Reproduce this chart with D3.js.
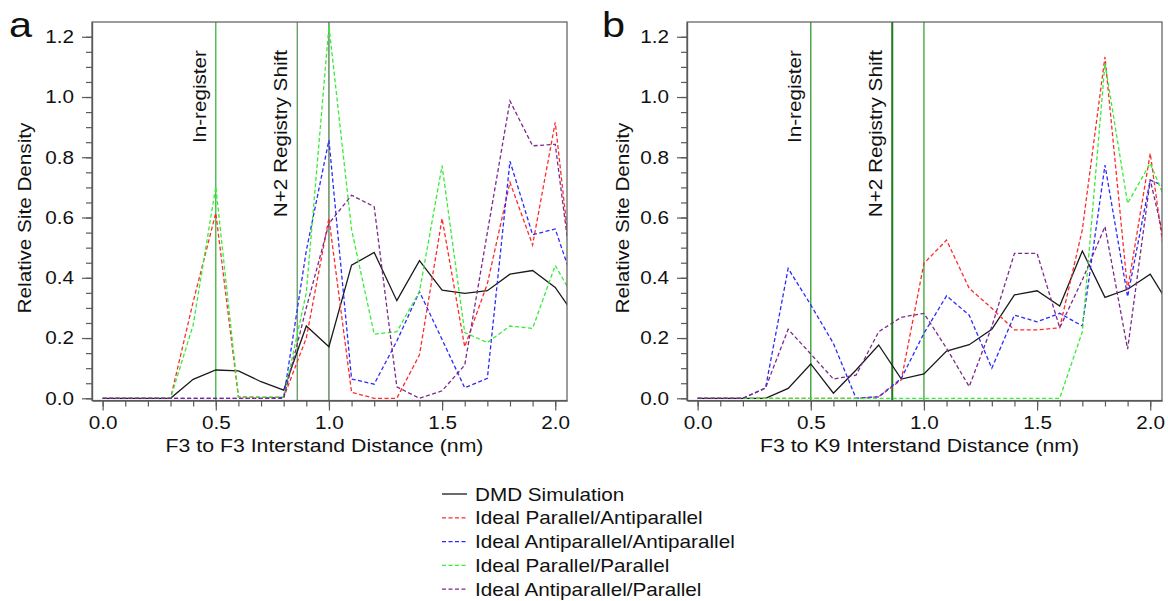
<!DOCTYPE html>
<html>
<head>
<meta charset="utf-8">
<script src="https://cdn.jsdelivr.net/npm/d3@7"></script>
<style>
  body { margin: 0; background: #fff; }
  svg text { font-family: "Liberation Sans", Arial, sans-serif; fill: #111; }
</style>
</head>
<body>
<svg id="chart" width="1168" height="601"></svg>
<script>
// Data
var dist = [0.0, 0.1, 0.2, 0.3, 0.4, 0.5, 0.6, 0.7, 0.8, 0.9, 1.0,
            1.1, 1.2, 1.3, 1.4, 1.5, 1.6, 1.7, 1.8, 1.9, 2.0, 2.1];

// panel a : F3 to F3
var dmdA    = [0, 0, 0, 0, 0.063, 0.094, 0.091, 0.055, 0.027, 0.24, 0.171, 0.442, 0.484, 0.324, 0.457, 0.359, 0.348, 0.357, 0.412, 0.424, 0.368, 0.26];
var redA    = [0, 0, 0, 0, 0.32, 0.615, 0.005, 0.003, 0.003, 0.2, 0.598, 0.02, 0, 0, 0.144, 0.597, 0.171, 0.38, 0.717, 0.509, 0.916, 0.24];
var blueA   = [0, 0, 0, 0, 0, 0, 0, 0, 0.003, 0.49, 0.857, 0.064, 0.047, 0.19, 0.354, 0.195, 0.035, 0.066, 0.787, 0.543, 0.562, 0.34];
var greenA  = [0, 0, 0, 0, 0.243, 0.702, 0.004, 0.004, 0.004, 0.35, 1.236, 0.56, 0.213, 0.221, 0.354, 0.772, 0.218, 0.185, 0.24, 0.232, 0.441, 0.31];
var purpleA = [0, 0, 0, 0, 0, 0, 0, 0, 0, 0.3, 0.58, 0.674, 0.636, 0.038, 0, 0.025, 0.11, 0.55, 0.987, 0.838, 0.843, 0.26];

// panel b : F3 to K9
var dmdB    = [0, 0, 0, 0, 0.033, 0.114, 0.017, 0.094, 0.177, 0.064, 0.081, 0.157, 0.178, 0.229, 0.343, 0.357, 0.306, 0.489, 0.335, 0.362, 0.412, 0.29];
var redB    = [0, 0, 0, 0, 0, 0, 0, 0, 0.005, 0.061, 0.448, 0.525, 0.365, 0.299, 0.227, 0.227, 0.234, 0.56, 1.133, 0.36, 0.813, 0.27];
var blueB   = [0, 0, 0, 0.034, 0.431, 0.31, 0.182, 0, 0.005, 0.066, 0.216, 0.34, 0.276, 0.1, 0.276, 0.254, 0.282, 0.24, 0.774, 0.337, 0.725, 0.69];
var greenB  = [0, 0, 0, 0, 0, 0, 0, 0, 0, 0, 0, 0, 0, 0, 0, 0, 0, 0.221, 1.112, 0.647, 0.78, 0.6];
var purpleB = [0, 0, 0, 0.034, 0.229, 0.147, 0.064, 0.077, 0.221, 0.269, 0.282, 0.166, 0.039, 0.238, 0.481, 0.481, 0.234, 0.393, 0.57, 0.163, 0.725, 0.4];

var seriesNames = ["DMD Simulation", "Ideal Parallel/Antiparallel", "Ideal Antiparallel/Antiparallel",
                   "Ideal Parallel/Parallel", "Ideal Antiparallel/Parallel"];
var seriesColors = ["#1a1a1a", "#ff2a2a", "#2a2aff", "#33ee33", "#7b2a8c"];

var markers = [0.5, 0.86, 1.0];
var markerLabels = ["In-register", "N+2 Registry Shift", ""];

var xTicks = [0.0, 0.5, 1.0, 1.5, 2.0];
var yTicks = [0.0, 0.2, 0.4, 0.6, 0.8, 1.0, 1.2];

// Layout
var SX = 1.15;   // the source font runs a bit wider than Arial
var svg = d3.select("#chart");
var plotW = 475, plotTop = 22, plotBottom = 400.5;

function drawPanel(p) {
    var g = svg.append("g").attr("transform", "translate(" + p.left + ",0)");

    var x = d3.scaleLinear().domain([-0.047, 2.052]).range([0, plotW]);
    var y = d3.scaleLinear().domain([-0.0073, 1.249]).range([plotBottom, plotTop]);

    g.append("clipPath").attr("id", "clip" + p.id)
      .append("rect")
        .attr("x", 0).attr("y", plotTop)
        .attr("width", plotW).attr("height", plotBottom - plotTop);

    // marker lines
    markers.forEach(function(m, i) {
        g.append("line")
            .attr("x1", x(m)).attr("x2", x(m))
            .attr("y1", plotTop).attr("y2", plotBottom)
            .attr("stroke", p.markerColors[i])
            .attr("stroke-width", p.markerWidths[i]);
        if (markerLabels[i]) {
            g.append("text")
                .attr("transform", "translate(" + (x(m) - 10) + ",50) rotate(-90) scale(" + SX + ",1)")
                .attr("text-anchor", "end")
                .attr("font-size", "18px")
                .text(markerLabels[i]);
        }
    });

    // series
    var line = d3.line()
        .x(function(d) { return x(d[0]); })
        .y(function(d) { return y(d[1]); });

    var lines = g.append("g").attr("clip-path", "url(#clip" + p.id + ")");
    p.series.forEach(function(vals, i) {
        lines.append("path")
            .datum(dist.map(function(d, j) { return [d, vals[j]]; }))
            .attr("fill", "none")
            .attr("stroke", seriesColors[i])
            .attr("stroke-width", 1.3)
            .attr("stroke-dasharray", i == 0 ? null : "4,2.5")
            .attr("d", line);
    });

    // frame
    g.append("rect")
        .attr("x", 0).attr("y", plotTop)
        .attr("width", plotW).attr("height", plotBottom - plotTop)
        .attr("fill", "none")
        .attr("stroke", "#5a5a5a")
        .attr("stroke-width", 1.2);

    // axes: major + minor ticks
    var xMinor = d3.range(0, 21).map(function(i) { return i / 10; });
    var yMinor = d3.range(0, 25).map(function(i) { return i / 20; });

    g.append("g").attr("class", "x axis")
        .attr("transform", "translate(0," + plotBottom + ")")
        .call(d3.axisBottom(x).tickValues(xMinor).tickSize(6).tickSizeOuter(0).tickFormat(""));
    var xAxis = g.append("g").attr("class", "x axis")
        .attr("transform", "translate(0," + plotBottom + ")")
        .call(d3.axisBottom(x).tickValues(xTicks).tickSize(10).tickSizeOuter(0)
              .tickPadding(6).tickFormat(d3.format(".1f")));
    g.append("g").attr("class", "y axis")
        .call(d3.axisLeft(y).tickValues(yMinor).tickSize(6).tickSizeOuter(0).tickFormat(""));
    var yAxis = g.append("g").attr("class", "y axis")
        .call(d3.axisLeft(y).tickValues(yTicks).tickSize(10).tickSizeOuter(0)
              .tickPadding(8).tickFormat(d3.format(".1f")));

    g.selectAll(".axis path").attr("stroke", "#5a5a5a").attr("stroke-width", 1.2);
    g.selectAll(".axis line").attr("stroke", "#5a5a5a").attr("stroke-width", 1.2);
    g.selectAll(".axis text")
        .attr("font-family", "Liberation Sans, Arial, sans-serif")
        .attr("font-size", "18px")
        .attr("fill", "#111");
    xAxis.selectAll("text").attr("transform", "scale(" + SX + ",1)");
    yAxis.selectAll("text")
        .attr("x", -18 / SX)
        .attr("transform", "scale(" + SX + ",1)");

    // titles
    g.append("text")
        .attr("transform", "translate(" + (plotW / 2 - 5) + ",451.5) scale(" + SX + ",1)")
        .attr("text-anchor", "middle")
        .attr("font-size", "18.5px")
        .text(p.xLabel);

    g.append("text")
        .attr("transform", "translate(" + p.yLabelX + ",218) rotate(-90) scale(" + SX + ",1)")
        .attr("text-anchor", "middle")
        .attr("font-size", "18px")
        .text("Relative Site Density");

    svg.append("text")
        .attr("transform", "translate(" + p.letterX + ",37) scale(" + SX + ",1)")
        .attr("font-size", "36px")
        .text(p.letter);
}

drawPanel({
    id: "a", left: 92, letter: "a", letterX: 9, yLabelX: -61,
    xLabel: "F3 to F3 Interstand Distance (nm)",
    series: [dmdA, redA, blueA, greenA, purpleA],
    markerColors: ["#3cb43c", "#5f9a5f", "#4f7a4f"],
    markerWidths: [1.3, 1.3, 1.3]
});

drawPanel({
    id: "b", left: 687, letter: "b", letterX: 602, yLabelX: -58,
    xLabel: "F3 to K9 Interstand Distance (nm)",
    series: [dmdB, redB, blueB, greenB, purpleB],
    markerColors: ["#2e9a2e", "#1c7a1c", "#33a833"],
    markerWidths: [1.3, 2, 1.3]
});

// Legend
var legend = svg.append("g").attr("transform", "translate(442,494)");
seriesNames.forEach(function(name, i) {
    var row = legend.append("g").attr("transform", "translate(0," + (i * 23.8) + ")");
    row.append("line")
        .attr("x1", 0).attr("x2", 25)
        .attr("y1", 0).attr("y2", 0)
        .attr("stroke", seriesColors[i])
        .attr("stroke-width", 1.3)
        .attr("stroke-dasharray", i == 0 ? null : "4,2.5");
    row.append("text")
        .attr("transform", "translate(33,6.5) scale(" + SX + ",1)")
        .attr("font-size", "18px")
        .text(name);
});
</script>
</body>
</html>
